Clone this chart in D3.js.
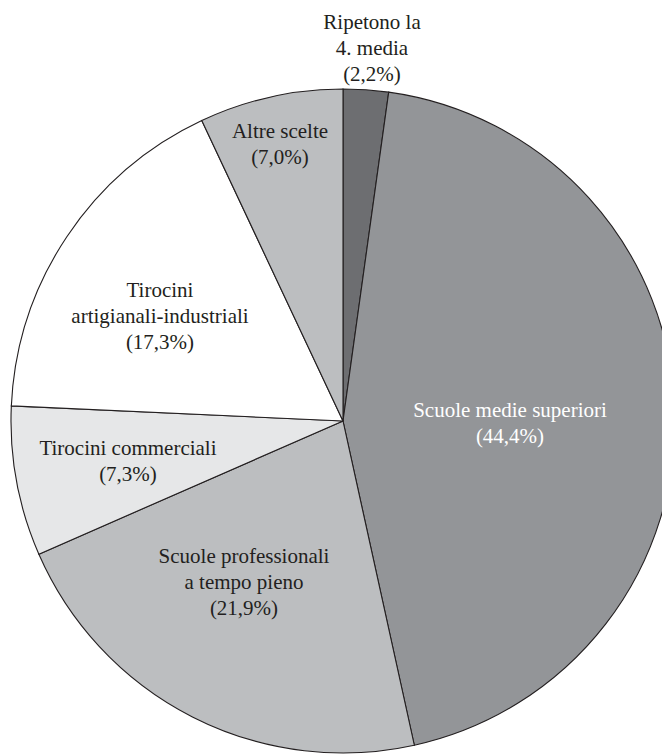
<!DOCTYPE html>
<html>
<head>
<meta charset="utf-8">
<script src="https://cdn.jsdelivr.net/npm/d3@7/dist/d3.min.js"></script>
<style>
  html, body { margin: 0; padding: 0; background: #ffffff; overflow: hidden; }
  svg { display: block; }
</style>
</head>
<body>
<script>
// ---- data ----
const categories = [
  "Ripetono la 4. media",
  "Scuole medie superiori",
  "Scuole professionali a tempo pieno",
  "Tirocini commerciali",
  "Tirocini artigianali-industriali",
  "Altre scelte"
];
const values = [2.2, 44.4, 21.9, 7.3, 17.3, 7.0];
const valueLabels = ["(2,2%)", "(44,4%)", "(21,9%)", "(7,3%)", "(17,3%)", "(7,0%)"];
const nameLines = [
  ["Ripetono la", "4. media"],
  ["Scuole medie superiori"],
  ["Scuole professionali", "a tempo pieno"],
  ["Tirocini commerciali"],
  ["Tirocini", "artigianali-industriali"],
  ["Altre scelte"]
];

// ---- styling / layout ----
const colors = ["#6d6e71", "#939598", "#bcbec0", "#e6e7e8", "#ffffff", "#bcbec0"];
const textColors = ["#231f20", "#ffffff", "#231f20", "#231f20", "#231f20", "#231f20"];
// label anchors: centre x and first baseline, in page pixels
const labelAnchors = [[372, 29], [510, 417], [244, 563], [128, 455], [160, 297], [280, 138]];

const W = 662, H = 756;
const cx = 343, cy = 421, R = 332;
const lineH = 26;

const svg = d3.select("body").append("svg")
  .attr("width", W).attr("height", H);

const pie = d3.pie().sort(null).value(d => d);
const arc = d3.arc().innerRadius(0).outerRadius(R);

const g = svg.append("g").attr("transform", `translate(${cx},${cy})`);

g.selectAll("path")
  .data(pie(values))
  .join("path")
  .attr("d", arc)
  .attr("fill", (d, i) => colors[i])
  .attr("stroke", "#231f20")
  .attr("stroke-width", 1.1)
  .attr("stroke-linejoin", "miter");

const labels = svg.append("g")
  .attr("font-family", "'Liberation Serif', 'Times New Roman', serif")
  .attr("font-size", 21)
  .attr("text-anchor", "middle");

categories.forEach((c, i) => {
  const lines = nameLines[i].concat([valueLabels[i]]);
  const t = labels.append("text")
    .attr("x", labelAnchors[i][0])
    .attr("y", labelAnchors[i][1])
    .attr("fill", textColors[i]);
  lines.forEach((ln, j) => {
    t.append("tspan")
      .attr("x", labelAnchors[i][0])
      .attr("y", labelAnchors[i][1] + j * lineH)
      .text(ln);
  });
});
</script>
</body>
</html>
